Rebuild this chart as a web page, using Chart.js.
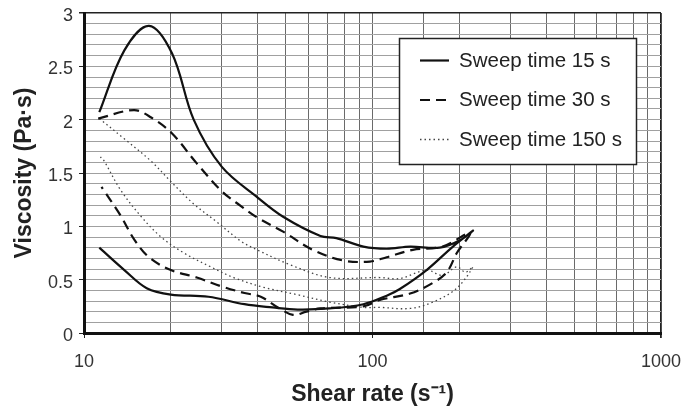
<!DOCTYPE html>
<html>
<head>
<meta charset="utf-8">
<script src="https://cdn.jsdelivr.net/npm/chart.js@4"></script>
<style>
  html, body { margin: 0; padding: 0; background: #fff; }
  canvas { display: block; }
</style>
</head>
<body>
<canvas id="viscChart" width="687" height="408"></canvas>
<script>
// each sweep is one loop: upper branch out to ~220 s-1, then the lower branch back
const rate15 = [11.3, 13.8, 16.8, 20.2, 24, 30, 40, 49, 66, 75, 93, 112, 135, 171, 201, 223,
                190, 154, 124, 112, 93, 71, 55, 45, 36, 27, 20, 16.5, 13.8, 11.3];
const visc15 = [2.07, 2.65, 2.88, 2.62, 2.0, 1.56, 1.27, 1.09, 0.91, 0.89, 0.81, 0.79, 0.81, 0.80, 0.87, 0.96,
                0.81, 0.59, 0.41, 0.35, 0.27, 0.23, 0.22, 0.24, 0.27, 0.34, 0.36, 0.42, 0.59, 0.80];

const rate30 = [11.2, 14.9, 17.1, 20.2, 24.6, 30, 35, 40, 49, 62, 79, 98, 112, 138, 175, 218,
                196, 181, 162, 135, 106, 93, 66, 59, 53, 47, 41, 36, 30.5, 24.6, 20, 16.8, 14.9, 13.4, 11.5];
const visc30 = [2.01, 2.09, 2.02, 1.87, 1.59, 1.33, 1.19, 1.08, 0.95, 0.78, 0.68, 0.67, 0.71, 0.78, 0.81, 0.94,
                0.75, 0.57, 0.47, 0.37, 0.31, 0.25, 0.23, 0.20, 0.17, 0.24, 0.34, 0.375, 0.43, 0.52, 0.59, 0.71, 0.88, 1.10, 1.37];

const rate150 = [11.3, 13.8, 17.1, 20, 24, 28.9, 35, 39.8, 51.8, 71, 106, 124, 154, 175, 196, 210, 223,
                 196, 162, 135, 106, 93, 71, 54.7, 41.7, 33, 27.5, 22.2, 18.5, 15.8, 13.4, 11.7, 11.4];
const visc150 = [2.01, 1.82, 1.61, 1.42, 1.21, 1.04, 0.86, 0.78, 0.64, 0.52, 0.52, 0.51, 0.59, 0.54, 0.62, 0.57, 0.62,
                 0.42, 0.29, 0.23, 0.24, 0.24, 0.29, 0.36, 0.43, 0.52, 0.62, 0.75, 0.90, 1.09, 1.34, 1.62, 1.65];

const seriesNames = ["Sweep time 15 s", "Sweep time 30 s", "Sweep time 150 s"];
const yTickLabels = ["0", "0.5", "1", "1.5", "2", "2.5", "3"];
const xTickLabels = [10, 100, 1000];

const FONT = '"Liberation Sans", Arial, sans-serif';

function toPoints(xs, ys) {
    return xs.map((x, i) => ({ x: x, y: ys[i] }));
}

function yLabel(v) {
    const s = String(Math.round(v * 10) / 10);
    return yTickLabels.includes(s) ? s : "";
}

// legend drawn inside the plot, like the original figure
const legendBox = {
    id: "legendBox",
    afterDatasetsDraw(chart) {
        const ctx = chart.ctx;
        ctx.save();
        ctx.fillStyle = "#fff";
        ctx.fillRect(399, 38, 237, 126);
        ctx.strokeStyle = "#222";
        ctx.lineWidth = 1.5;
        ctx.strokeRect(399.5, 38.5, 237, 126);
        chart.data.datasets.forEach((ds, i) => {
            const y = 60.5 + i * 39.5;
            ctx.beginPath();
            ctx.setLineDash(ds.borderDash || []);
            ctx.lineWidth = ds.borderWidth;
            ctx.strokeStyle = ds.borderColor;
            ctx.moveTo(420, y);
            ctx.lineTo(449, y);
            ctx.stroke();
            ctx.setLineDash([]);
            ctx.fillStyle = "#222";
            ctx.font = "20.5px " + FONT;
            ctx.textBaseline = "middle";
            ctx.fillText(ds.label, 459, y + 0.5);
        });
        ctx.restore();
    }
};

new Chart(document.getElementById("viscChart"), {
    type: "line",
    data: {
        datasets: [
            {
                label: seriesNames[0],
                data: toPoints(rate15, visc15),
                borderColor: "#111",
                borderWidth: 2.2,
                borderDash: [],
                pointRadius: 0,
                tension: 0.35,
                fill: false
            },
            {
                label: seriesNames[1],
                data: toPoints(rate30, visc30),
                borderColor: "#111",
                borderWidth: 2.2,
                borderDash: [10, 6],
                pointRadius: 0,
                tension: 0.35,
                fill: false
            },
            {
                label: seriesNames[2],
                data: toPoints(rate150, visc150),
                borderColor: "#444",
                borderWidth: 1.3,
                borderDash: [1.5, 3],
                pointRadius: 0,
                tension: 0.35,
                fill: false
            }
        ]
    },
    options: {
        responsive: false,
        animation: false,
        devicePixelRatio: 1,
        layout: { padding: { top: 13, right: 26, left: 0, bottom: 0 } },
        plugins: {
            legend: { display: false },
            tooltip: { enabled: false }
        },
        scales: {
            x: {
                type: "logarithmic",
                position: "bottom",
                min: 10,
                max: 1000,
                afterFit: s => {
                    s.height = 75;
                    s.paddingLeft = 0;
                    s.paddingRight = 0;
                },
                border: { display: true, color: "#111", width: 3 },
                grid: {
                    color: c => Math.round(c.tick.value) === 1000 ? "#222" : "#6a6a6a",
                    lineWidth: c => Math.round(c.tick.value) === 1000 ? 1.8 : 1,
                    tickLength: 5,
                    tickColor: c => xTickLabels.includes(Math.round(c.tick.value)) ? "#222" : "rgba(0,0,0,0)"
                },
                ticks: {
                    autoSkip: false,
                    maxRotation: 0,
                    padding: 13,
                    color: "#333",
                    font: { family: FONT, size: 18 },
                    callback: v => xTickLabels.includes(Math.round(v)) ? String(Math.round(v)) : ""
                },
                title: {
                    display: true,
                    text: "Shear rate (s\u207B\u00B9)",
                    color: "#222",
                    font: { family: FONT, size: 23, weight: "bold" },
                    padding: { top: 0, bottom: 0 }
                }
            },
            y: {
                min: 0,
                max: 3,
                afterFit: s => {
                    s.width = 84;
                    s.paddingTop = 0;
                    s.paddingBottom = 0;
                },
                border: { display: true, color: "#111", width: 3 },
                grid: {
                    color: c => Math.abs(c.tick.value - 3) < 1e-6 ? "#222" : "#a0a0a0",
                    lineWidth: c => Math.abs(c.tick.value - 3) < 1e-6 ? 1.5 : 1,
                    tickLength: 5,
                    tickColor: c => yLabel(c.tick.value) !== "" ? "#222" : "rgba(0,0,0,0)"
                },
                ticks: {
                    stepSize: 0.1,
                    autoSkip: false,
                    padding: 6,
                    labelOffset: 3,
                    color: "#333",
                    font: { family: FONT, size: 18 },
                    callback: v => yLabel(v)
                },
                title: {
                    display: true,
                    text: "Viscosity (Pa\u00B7s)",
                    color: "#222",
                    font: { family: FONT, size: 23, weight: "bold" },
                    padding: { top: 11, bottom: 0 }
                }
            }
        }
    },
    plugins: [legendBox]
});
</script>
</body>
</html>
